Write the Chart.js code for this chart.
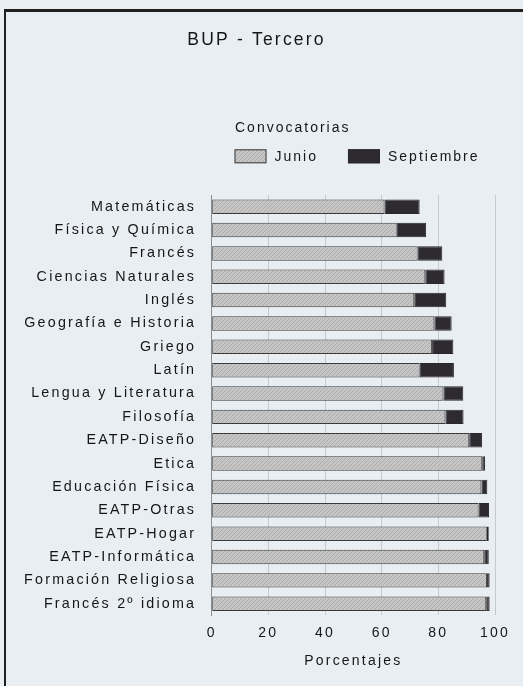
<!DOCTYPE html>
<html><head><meta charset="utf-8">
<script src="https://cdn.jsdelivr.net/npm/chart.js@4"></script>
<style>
html,body{margin:0;padding:0;background:#e9eef3;width:523px;height:686px;overflow:hidden}
#frame{position:absolute;left:4px;top:9px;width:620px;height:720px;border-left:2px solid #1f1f1f;border-top:3px solid #1f1f1f;box-sizing:border-box}
#c{position:absolute;left:0;top:0}
</style></head><body>
<div id="frame"></div>
<canvas id="c" width="523" height="686"></canvas>
<script>
const categories = ['Matemáticas','Física y Química','Francés','Ciencias Naturales','Inglés','Geografía e Historia','Griego','Latín','Lengua y Literatura','Filosofía','EATP-Diseño','Etica','Educación Física','EATP-Otras','EATP-Hogar','EATP-Informática','Formación Religiosa','Francés 2º idioma'];
const junio = [61.0, 65.3, 72.7, 75.4, 71.5, 78.6, 77.8, 73.4, 81.8, 82.5, 90.9, 95.5, 95.2, 94.2, 97.1, 96.2, 97.2, 96.9];
const septiembre = [12.4, 10.4, 8.7, 6.8, 11.3, 6.1, 7.5, 12.1, 7.0, 6.4, 4.5, 1.0, 2.1, 3.7, 0.7, 1.6, 0.9, 1.2];
const xTicks = [0, 20, 40, 60, 80, 100];
const seriesNames = ['Junio', 'Septiembre'];
const chartTitle = 'BUP - Tercero';
const legendTitle = 'Convocatorias';
const axisTitle = 'Porcentajes';

const FONT = "'Liberation Sans', Arial, sans-serif";
const TXT = '#161616';
const LS = '2.2px';

function hatch() {
  const p = document.createElement('canvas');
  p.width = 4; p.height = 4;
  const g = p.getContext('2d');
  g.fillStyle = '#c6c6c6';
  g.fillRect(0, 0, 4, 4);
  g.strokeStyle = '#acacac';
  g.lineWidth = 1;
  g.beginPath(); g.moveTo(-1, 5); g.lineTo(5, -1); g.stroke();
  return g.createPattern(p, 'repeat');
}

const spacing = {
  id: 'spacing',
  beforeUpdate(c) { c.ctx.letterSpacing = LS; },
  beforeLayout(c) { c.ctx.letterSpacing = LS; },
  beforeDraw(c) { c.ctx.letterSpacing = LS; }
};

// Legend drawn from the datasets (title + boxes + labels)
const convLegend = {
  id: 'convLegend',
  afterDraw(chart) {
    const ctx = chart.ctx;
    ctx.save();
    ctx.letterSpacing = '2px';
    ctx.font = '14px ' + FONT;
    ctx.textBaseline = 'middle';
    ctx.textAlign = 'left';
    ctx.fillStyle = TXT;
    ctx.fillText(legendTitle, 235, 128.5);
    let x = 234.5;
    chart.data.datasets.forEach(ds => {
      ctx.fillStyle = ds.backgroundColor;
      ctx.fillRect(x, 149.3, 32, 14);
      ctx.strokeStyle = ds.borderColor;
      ctx.lineWidth = 1;
      ctx.strokeRect(x + 0.5, 149.8, 31, 13);
      ctx.fillStyle = TXT;
      ctx.fillText(ds.label, x + 40, 157.5);
      x += 40 + ctx.measureText(ds.label).width + 30;
    });
    ctx.restore();
  }
};

Chart.defaults.font.family = FONT;
Chart.defaults.color = TXT;

new Chart(document.getElementById('c'), {
  type: 'bar',
  data: {
    labels: categories,
    datasets: [
      { label: seriesNames[0], data: junio, backgroundColor: hatch(), borderColor: '#3a3a3a', borderWidth: 1, borderSkipped: false },
      { label: seriesNames[1], data: septiembre, backgroundColor: '#2e2b30', borderColor: '#2a272c', borderWidth: 1, borderSkipped: false }
    ]
  },
  plugins: [spacing, convLegend],
  options: {
    indexAxis: 'y',
    responsive: false,
    animation: false,
    barPercentage: 0.62,
    categoryPercentage: 1,
    layout: { padding: { left: 18, right: 28, top: 0, bottom: 16.3 } },
    plugins: {
      tooltip: { enabled: false },
      legend: { display: false },
      title: {
        display: true, text: chartTitle, color: TXT,
        font: { size: 17.5, weight: 'normal', family: FONT },
        padding: { top: 29.2, bottom: 144.8 }
      }
    },
    scales: {
      x: {
        stacked: true, min: 0, max: 100,
        afterBuildTicks: s => { s.ticks = xTicks.map(v => ({ value: v })); },
        grid: { color: '#c6cacf', lineWidth: 1, drawTicks: false },
        border: { display: false },
        ticks: { padding: 9, color: TXT, font: { size: 14, family: FONT } },
        title: { display: true, text: axisTitle, color: TXT, font: { size: 14, family: FONT }, padding: { top: 2.7, bottom: 0 } }
      },
      y: {
        stacked: true,
        afterFit: s => { s.width = 193.7; },
        grid: { display: false, drawTicks: false },
        border: { display: true, color: '#8d8d8d', width: 1 },
        ticks: { padding: 15.5, color: TXT, autoSkip: false, font: { size: 14.3, family: FONT } }
      }
    }
  }
});
</script>
</body></html>
